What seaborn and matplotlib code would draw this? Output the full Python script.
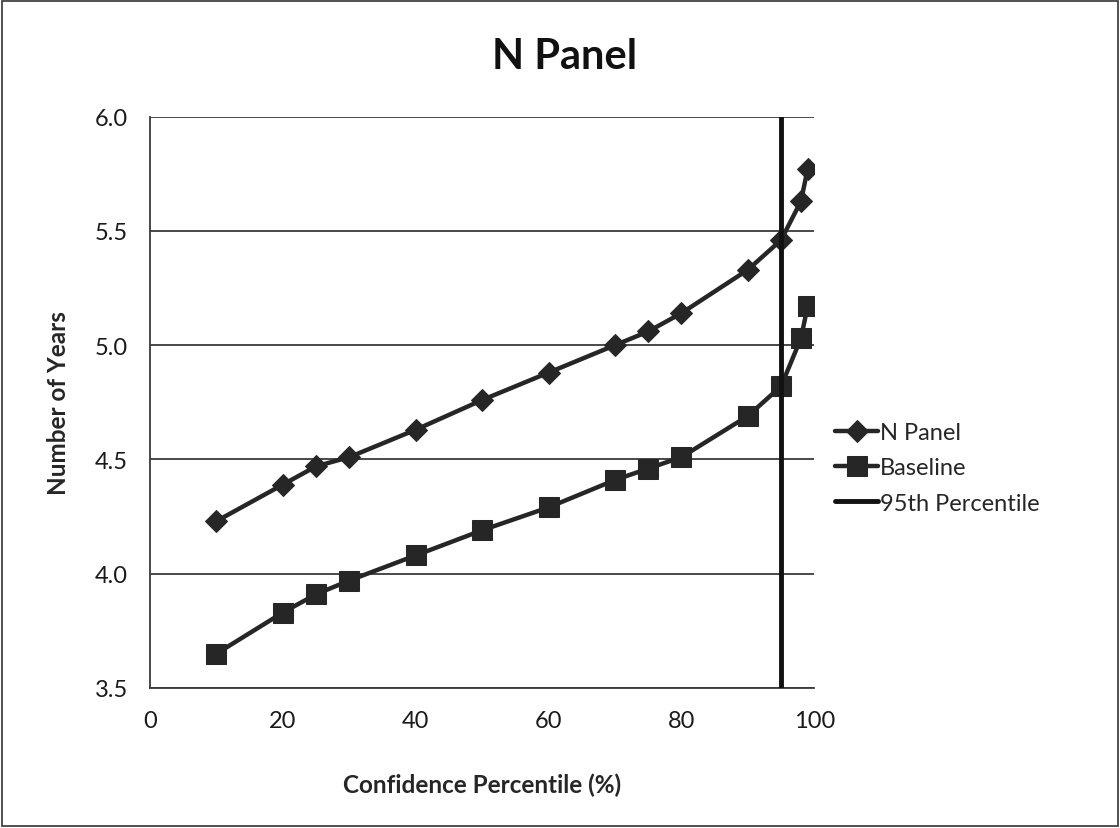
import matplotlib
matplotlib.use("Agg")
import matplotlib.pyplot as plt
import seaborn as sns
import pandas as pd
from matplotlib.patches import Rectangle

percentiles = [10, 20, 25, 30, 40, 50, 60, 70, 75, 80, 90, 95, 98, 99]
n_panel = [4.23, 4.39, 4.47, 4.51, 4.63, 4.76, 4.88, 5.00, 5.06, 5.14, 5.33, 5.46, 5.63, 5.77]
baseline = [3.65, 3.83, 3.91, 3.97, 4.08, 4.19, 4.29, 4.41, 4.46, 4.51, 4.69, 4.82, 5.03, 5.17]
vline_x = 95
x_ticks = [0, 20, 40, 60, 80, 100]
y_ticks = [3.5, 4.0, 4.5, 5.0, 5.5, 6.0]

sns.set_theme(style="white")
plt.rcParams['font.family'] = ['Lato', 'DejaVu Sans']

fig = plt.figure(figsize=(11.2, 8.29), dpi=100)
ax = fig.add_axes([0.134, 0.169, 0.593, 0.689])

col = "#262626"
df_n = pd.DataFrame({"x": percentiles, "y": n_panel})
df_b = pd.DataFrame({"x": percentiles, "y": baseline})

sns.lineplot(data=df_n, x="x", y="y", ax=ax, color=col, lw=3.2, marker="D",
             markersize=11, markeredgecolor=col, label="N Panel", zorder=4)
sns.lineplot(data=df_b, x="x", y="y", ax=ax, color=col, lw=3.2, marker="s",
             markersize=15, markeredgecolor=col, label="Baseline", zorder=4)
ax.axvline(vline_x, color="#111111", lw=3.5, label="95th Percentile", zorder=5)

ax.set_xlim(0, 100)
ax.set_ylim(3.5, 6.0)
ax.set_xticks(x_ticks)
ax.set_yticks(y_ticks)
ax.set_yticklabels([f"{v:.1f}" for v in y_ticks])
ax.yaxis.grid(True, color="#3a3a3a", lw=1.3)
ax.xaxis.grid(False)
for s in ["top", "right"]:
    ax.spines[s].set_visible(False)
for s in ["left", "bottom"]:
    ax.spines[s].set_color("#3a3a3a")
    ax.spines[s].set_linewidth(1.3)
ax.tick_params(axis="both", labelsize=17, colors="#1a1a1a", pad=10)

ax.set_xlabel("Confidence Percentile (%)", fontsize=17.5, fontweight="bold", labelpad=30)
ax.set_ylabel("Number of Years", fontsize=17.5, fontweight="bold", labelpad=18)
fig.text(0.504, 0.931, "N Panel", fontsize=30, fontweight="bold",
         ha="center", va="center", color="#111111")

ax.legend(loc="center left", bbox_to_anchor=(1.032, 0.385), frameon=False,
          fontsize=17, handlelength=1.8, handletextpad=0.1, labelspacing=0.6,
          borderaxespad=0, borderpad=0)

fig.patches.append(Rectangle((0.002, 0.002), 0.996, 0.996, transform=fig.transFigure,
                             fill=False, edgecolor="#333333", lw=1.2))

fig.savefig("out.png", dpi=100)
